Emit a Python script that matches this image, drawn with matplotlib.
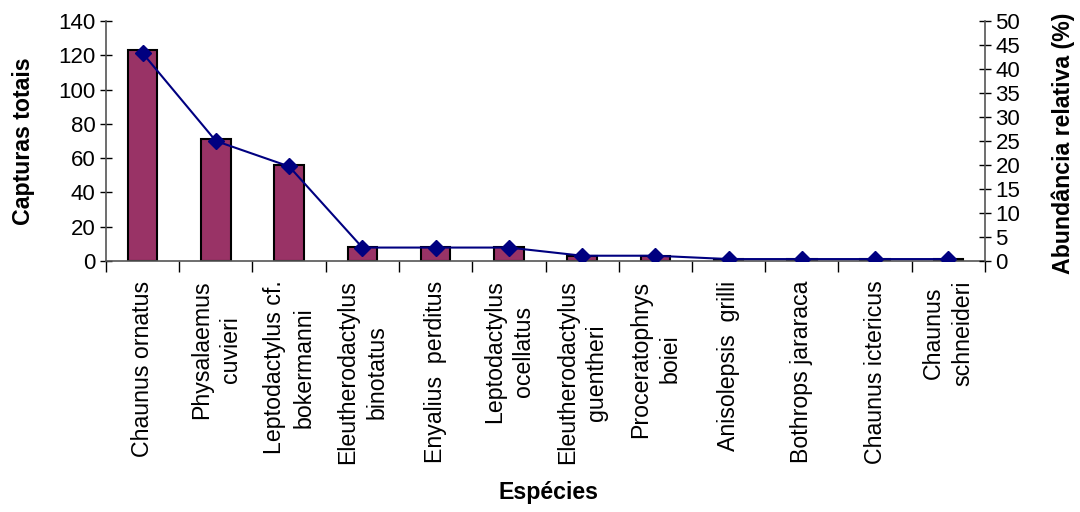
import matplotlib.pyplot as plt
import numpy as np

plt.rcParams['font.family'] = ['Liberation Sans', 'DejaVu Sans']

# Capturas por espécie
especies = ['Chaunus ornatus', 'Physalaemus\ncuvieri', 'Leptodactylus cf.\nbokermanni',
            'Eleutherodactylus\nbinotatus', 'Enyalius  perditus', 'Leptodactylus\nocellatus',
            'Eleutherodactylus\nguentheri', 'Proceratophrys\nboiei', 'Anisolepsis  grilli',
            'Bothrops jararaca', 'Chaunus ictericus', 'Chaunus\nschneideri']
capturas = [123, 71, 56, 8, 8, 8, 3, 3, 1, 1, 1, 1]
abundancia = [43.3, 25.0, 19.7, 2.8, 2.8, 2.8, 1.1, 1.1, 0.4, 0.4, 0.4, 0.4]

fig = plt.figure(figsize=(10.8, 5.12), dpi=100)
ax = fig.add_axes([106 / 1080, 1 - 261 / 512, 879 / 1080, 240 / 512])
x = np.arange(len(especies))

ax.bar(x, capturas, width=0.4, color='#993366', edgecolor='black', linewidth=1.5, zorder=2)
ax.set_xlim(-0.5, len(especies) - 0.5)
ax.set_ylim(0, 140)
ax.set_yticks(range(0, 141, 20))
ax.tick_params(axis='y', direction='inout', length=9, width=1, labelsize=16, pad=3)
ax.set_xticks(x)
ax.set_xticklabels(especies, rotation=90, ha='center', va='top', multialignment='center',
                   fontsize=16.7, linespacing=1.35)
ax.tick_params(axis='x', which='major', length=0, pad=14)
ax.set_xticks(np.arange(-0.5, len(especies), 1), minor=True)
ax.tick_params(axis='x', which='minor', direction='out', length=8, width=1)
ax.spines['top'].set_visible(False)
ax.spines['right'].set_visible(False)
for s in ['left', 'bottom']:
    ax.spines[s].set_color('#555555')
    ax.spines[s].set_linewidth(1.2)

# Eixo secundário com a abundância relativa
ax2 = ax.twinx()
ax2.plot(x, abundancia, color='#000080', linewidth=1.5, marker='D', markersize=8, zorder=3)
ax2.set_ylim(0, 50)
ax2.set_yticks(range(0, 51, 5))
ax2.tick_params(axis='y', direction='inout', length=9, width=1, labelsize=16, pad=3)
for s in ['top', 'left', 'bottom']:
    ax2.spines[s].set_visible(False)
ax2.spines['right'].set_color('#555555')
ax2.spines['right'].set_linewidth(1.2)

# Títulos dos eixos
fig.text(24 / 1080, 1 - 141 / 512, 'Capturas totais', rotation=90, ha='center', va='center',
         fontsize=16.7, fontweight='bold')
fig.text(1063 / 1080, 1 - 143 / 512, 'Abundância relativa (%)', rotation=90, ha='center', va='center',
         fontsize=16.7, fontweight='bold')
fig.text(548 / 1080, 1 - 493 / 512, 'Espécies', ha='center', va='center',
         fontsize=16.7, fontweight='bold')

fig.savefig('out.png', dpi=100)
